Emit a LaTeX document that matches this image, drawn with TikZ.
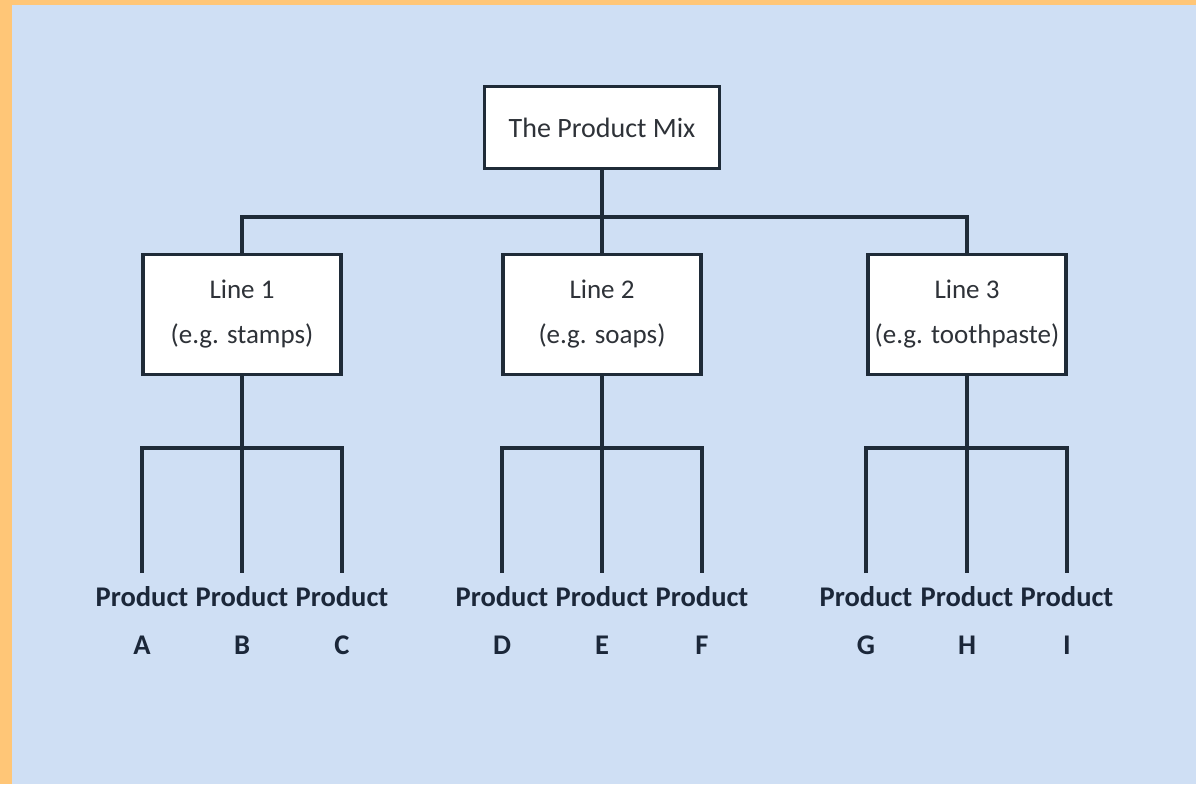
\documentclass[tikz,border=0pt]{standalone}
\usepackage{fontspec}
\setmainfont{Carlito}
\definecolor{frame}{HTML}{FFC677}
\definecolor{paper}{HTML}{CFDFF4}
\definecolor{ink}{HTML}{1F2B38}
\definecolor{boxtext}{HTML}{2E3238}
\definecolor{prodtext}{HTML}{1B2739}
\begin{document}
\begin{tikzpicture}[x=1pt,y=-1pt,
  conn/.style={draw=ink, line width=3.5pt},
  mixbox/.style={draw=ink, line width=3.5pt, fill=white, minimum width=235pt, minimum height=82pt,
    inner sep=0pt, text=boxtext, font=\fontsize{28}{33}\selectfont},
  linebox/.style={draw=ink, line width=3.5pt, fill=white, minimum width=198pt, minimum height=120pt,
    inner sep=0pt, align=center, text=boxtext, font=\fontsize{27}{33}\selectfont},
  prod/.style={inner sep=0pt, outer ysep=13pt, anchor=north, align=center, text=prodtext,
    font=\fontsize{28.5}{34}\selectfont\bfseries}]
  % page: orange strip on the left and top, light blue field
  \useasboundingbox (0,0) rectangle (1196,784);
  \fill[frame] (0,0) rectangle (1196,784);
  \fill[paper] (12,5) rectangle (1196,784);

  % root and product lines
  \node[mixbox] (mix) at (602,127.5) {The Product Mix};
  \node[linebox] (l1) at (242,314.5) {Line 1\\[12pt](e.g. stamps)};
  \node[linebox] (l2) at (602,314.5) {Line 2\\[12pt](e.g. soaps)};
  \node[linebox] (l3) at (967,314.5) {Line 3\\[12pt](e.g. toothpaste)};

  % products
  \node[prod] (pA) at (142,573) {Product\\[14pt]A};
  \node[prod] (pB) at (242,573) {Product\\[14pt]B};
  \node[prod] (pC) at (342,573) {Product\\[14pt]C};
  \node[prod] (pD) at (502,573) {Product\\[14pt]D};
  \node[prod] (pE) at (602,573) {Product\\[14pt]E};
  \node[prod] (pF) at (702,573) {Product\\[14pt]F};
  \node[prod] (pG) at (866,573) {Product\\[14pt]G};
  \node[prod] (pH) at (967,573) {Product\\[14pt]H};
  \node[prod] (pI) at (1067,573) {Product\\[14pt]I};

  % bus coordinates
  \coordinate (bus) at (602,217);
  \coordinate (b1) at (242,448);
  \coordinate (b2) at (602,448);
  \coordinate (b3) at (967,448);

  % root to lines
  \draw[conn] (mix.south) -- (l2.north);
  \draw[conn] (l1.north) |- (bus) -| (l3.north);

  % lines to products
  \draw[conn] (l1.south) -- (pB.north);
  \draw[conn] (pA.north) |- (b1) -| (pC.north);
  \draw[conn] (l2.south) -- (pE.north);
  \draw[conn] (pD.north) |- (b2) -| (pF.north);
  \draw[conn] (l3.south) -- (pH.north);
  \draw[conn] (pG.north) |- (b3) -| (pI.north);
\end{tikzpicture}
\end{document}
